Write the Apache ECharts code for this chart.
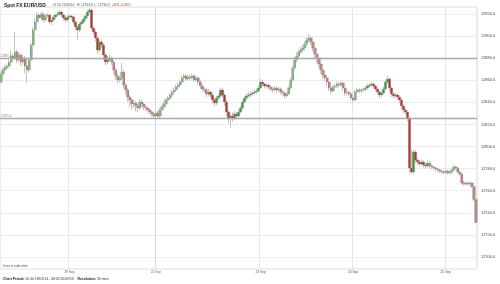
<!DOCTYPE html>
<html><head><meta charset="utf-8">
<script src="https://cdn.jsdelivr.net/npm/echarts/dist/echarts.min.js"></script>
<style>html,body{margin:0;padding:0;background:#fff}#c{width:500px;height:284px}</style>
</head><body><div id="c"></div>
<script>
// ---- data (30-minute candles, EUR/USD in pips-style quote) ----
const firstOpen = 12858.4;
const closes = [
12865.7,12869.3,12871.1,12872.9,12876.5,12882.0,12880.2,12885.6,12878.4,12882.9,
12876.5,12880.2,12872.9,12869.3,12878.4,12891.9,12905.5,12912.8,12919.1,12916.4,
12920.0,12914.6,12918.2,12919.1,12912.8,12914.6,12917.3,12919.1,12920.0,12921.8,
12919.1,12916.4,12914.6,12917.3,12918.2,12917.3,12912.8,12908.2,12905.5,12911.0,
12912.8,12915.5,12918.2,12921.8,12923.6,12907.3,12903.7,12898.3,12887.4,12894.7,
12891.9,12882.9,12876.5,12878.4,12880.2,12876.5,12869.3,12863.9,12860.2,12862.1,
12867.5,12855.7,12851.2,12844.8,12842.1,12838.5,12839.4,12836.7,12834.9,12840.3,
12838.5,12835.8,12834.9,12833.1,12831.3,12829.5,12827.6,12830.4,12827.6,12833.1,
12835.8,12838.5,12842.1,12843.9,12846.7,12849.4,12851.2,12853.9,12855.7,12858.4,
12862.1,12863.9,12861.2,12863.0,12862.1,12863.9,12860.2,12862.1,12858.4,12854.8,
12852.1,12851.2,12847.6,12849.4,12846.7,12842.1,12839.4,12843.9,12845.8,12851.2,
12846.7,12840.3,12831.3,12824.9,12827.6,12825.8,12829.5,12827.6,12831.3,12834.9,
12840.3,12843.9,12845.8,12846.7,12847.6,12848.5,12849.4,12850.3,12853.0,12858.4,
12856.6,12854.8,12855.7,12853.9,12852.1,12851.2,12853.0,12851.2,12852.1,12849.4,
12848.5,12845.8,12847.6,12853.0,12860.2,12871.1,12878.4,12882.0,12885.6,12887.4,
12889.2,12892.8,12896.5,12898.3,12894.7,12889.2,12883.8,12880.2,12874.7,12869.3,
12864.8,12862.1,12858.4,12853.0,12850.3,12853.9,12854.8,12856.6,12855.7,12857.5,
12853.0,12848.5,12848.9,12847.6,12843.9,12842.1,12849.4,12851.2,12850.3,12851.2,
12851.6,12853.0,12854.8,12855.7,12856.6,12854.8,12852.1,12849.4,12846.7,12848.5,
12852.1,12858.4,12861.2,12853.0,12847.6,12845.8,12846.7,12844.8,12842.1,12836.7,
12833.1,12831.3,12825.8,12780.6,12777.0,12795.1,12787.8,12786.0,12784.2,12786.0,
12783.3,12782.4,12785.1,12782.4,12781.5,12780.6,12779.7,12778.8,12777.9,12777.0,
12776.6,12777.9,12776.1,12777.0,12778.8,12781.5,12780.6,12777.0,12775.2,12767.0,
12766.1,12767.0,12766.1,12767.0,12763.8,12752.0,12731.3
];
const highs = [
12867.5,12871.5,12873.5,12875.2,12879.0,12887.0,12884.0,12903.7,12888.0,12885.5,
12884.5,12883.0,12882.0,12875.0,12880.5,12894.0,12908.0,12916.0,12921.5,12921.0,
12922.0,12921.5,12920.0,12921.0,12920.0,12916.5,12919.0,12920.5,12922.0,12923.5,
12923.0,12920.5,12918.0,12919.0,12920.0,12919.5,12918.5,12914.0,12910.0,12912.5,
12914.5,12917.5,12920.0,12923.5,12925.5,12924.5,12909.0,12906.0,12900.0,12897.0,
12897.0,12893.5,12884.5,12882.0,12883.0,12881.5,12878.0,12871.0,12866.0,12864.5,
12875.6,12869.0,12857.5,12853.0,12847.0,12844.0,12842.5,12841.0,12838.5,12843.0,
12842.5,12840.0,12838.0,12836.5,12835.0,12833.0,12831.0,12832.5,12832.0,12835.0,
12837.5,12840.5,12844.0,12846.0,12848.5,12851.5,12853.5,12856.0,12858.0,12860.5,
12864.5,12866.0,12865.5,12865.0,12865.0,12866.0,12865.5,12864.5,12863.5,12860.0,
12856.5,12854.0,12853.0,12852.0,12851.0,12848.5,12844.0,12846.0,12848.0,12853.5,
12853.0,12848.0,12842.0,12833.0,12830.0,12831.0,12832.0,12831.5,12833.5,12837.0,
12842.5,12846.0,12848.5,12849.0,12850.0,12850.5,12851.5,12852.5,12855.0,12861.0,
12860.5,12858.0,12857.5,12857.0,12855.5,12854.0,12855.0,12854.5,12854.0,12853.5,
12851.0,12850.0,12849.5,12855.0,12862.5,12873.5,12881.0,12885.0,12888.0,12890.0,
12892.0,12895.5,12899.0,12901.9,12900.0,12896.5,12891.0,12886.0,12882.0,12876.5,
12871.0,12867.0,12864.0,12860.0,12855.0,12856.0,12857.0,12858.5,12858.5,12859.5,
12859.0,12854.5,12850.5,12850.5,12849.0,12845.5,12851.5,12853.0,12853.0,12853.0,
12853.5,12855.0,12857.0,12857.5,12858.5,12858.0,12856.0,12853.5,12851.0,12850.5,
12854.0,12860.5,12864.0,12862.5,12854.5,12849.0,12849.0,12848.0,12846.5,12843.5,
12838.0,12835.0,12832.5,12827.0,12796.9,12797.5,12797.0,12790.0,12788.0,12788.5,
12787.5,12785.0,12787.0,12786.5,12784.0,12783.0,12782.0,12781.0,12780.0,12779.0,
12778.5,12779.5,12779.0,12778.5,12780.5,12783.0,12783.0,12782.0,12778.5,12776.5,
12769.0,12768.5,12768.5,12768.5,12768.0,12764.5,12753.0
];
const lows = [
12856.6,12864.0,12867.8,12869.5,12871.5,12875.0,12877.5,12878.5,12875.5,12876.0,
12873.0,12874.0,12866.0,12857.5,12867.0,12877.0,12890.0,12903.5,12911.0,12914.0,
12914.5,12912.0,12913.0,12916.5,12910.5,12910.0,12913.0,12915.5,12917.5,12918.5,
12917.0,12914.0,12912.5,12913.0,12915.5,12915.0,12910.5,12905.0,12896.5,12903.5,
12909.5,12911.0,12914.0,12916.5,12920.0,12905.0,12901.0,12895.0,12884.0,12885.5,
12889.0,12878.0,12873.5,12874.5,12876.5,12874.0,12866.0,12860.5,12857.0,12858.0,
12860.0,12852.5,12847.0,12840.5,12836.0,12833.5,12835.0,12832.0,12831.0,12833.0,
12835.5,12833.0,12832.0,12830.5,12829.0,12827.0,12825.5,12826.0,12825.0,12826.0,
12831.5,12834.0,12837.0,12840.5,12842.5,12845.0,12848.0,12849.5,12852.0,12854.0,
12857.0,12860.5,12859.5,12859.5,12860.0,12860.5,12858.5,12858.5,12856.0,12852.0,
12849.5,12848.5,12844.5,12845.5,12844.0,12839.0,12836.5,12837.5,12842.0,12844.0,
12844.5,12837.0,12827.5,12821.0,12816.8,12822.5,12824.0,12825.0,12826.0,12830.0,
12833.5,12839.0,12842.0,12844.0,12845.0,12846.0,12847.0,12848.0,12849.0,12852.0,
12854.5,12852.5,12853.0,12851.5,12850.0,12849.0,12849.5,12849.0,12849.5,12847.0,
12846.0,12843.5,12844.0,12846.5,12851.5,12859.0,12869.5,12876.0,12880.0,12883.5,
12885.0,12887.0,12890.5,12894.5,12892.0,12886.0,12880.5,12875.6,12871.5,12866.0,
12861.5,12859.0,12855.0,12850.0,12847.5,12848.5,12852.0,12853.0,12853.5,12854.0,
12850.5,12846.0,12846.5,12845.5,12841.5,12840.0,12841.0,12848.0,12848.5,12848.5,
12849.5,12850.0,12851.5,12853.5,12854.0,12852.5,12850.0,12847.0,12843.5,12845.0,
12847.0,12851.0,12857.0,12850.0,12845.0,12843.5,12844.0,12842.5,12839.5,12834.0,
12830.5,12828.5,12823.0,12775.5,12775.0,12775.0,12785.5,12783.5,12782.0,12782.5,
12781.0,12780.0,12781.0,12780.5,12779.5,12778.5,12777.5,12777.0,12776.0,12775.5,
12775.0,12775.0,12774.5,12774.5,12775.5,12777.5,12779.0,12775.5,12773.5,12765.5,
12764.5,12764.5,12764.5,12765.0,12762.5,12750.5,12730.3
];
const dayLabels = ['19 Sep', '22 Sep', '23 Sep', '24 Sep', '25 Sep'];
const dayIndex = [34, 77, 129, 175, 221];
const yMin = 12700, yMax = 12920, yStep = 20;
const levelValues = [12880.2, 12825.6];
const levelLabels = ['12880.2', '12825.6'];
const lastPrice = 12731.3;

// ---- build library structures ----
const categories = closes.map((_, i) => String(i));
const ohlc = closes.map((c, i) => [i === 0 ? firstOpen : closes[i - 1], c, lows[i], highs[i]]);
const dayAt = {};
dayIndex.forEach((d, k) => { dayAt[d] = dayLabels[k]; });
const isDay = (i) => dayAt[i] !== undefined;

const chart = echarts.init(document.getElementById('c'), null, {renderer: 'canvas'});
const FONT = 'Liberation Sans, Arial, sans-serif';

chart.setOption({
  animation: false,
  backgroundColor: '#fff',
  textStyle: {fontFamily: FONT},
  grid: [
    {left: 0, right: 23, top: 7, bottom: 15, show: true, borderColor: '#dedede', borderWidth: 1},
    {left: 0, right: 23, top: 14, bottom: 27}
  ],
  xAxis: [
    {
      gridIndex: 0, type: 'category', data: categories, boundaryGap: true,
      axisLine: {show: false}, axisTick: {show: false},
      axisLabel: {
        interval: (i) => isDay(i), formatter: (v, i) => dayAt[+v] || '',
        fontSize: 3.3, fontFamily: FONT, margin: 1.5,
        color: (v) => (dayAt[+v] === '22 Sep' ? '#5a6fb5' : '#555')
      },
      splitLine: {
        show: true, interval: (i) => isDay(i),
        lineStyle: {width: 1, color: ['#e6e6e6', '#d2d8ee', '#e6e6e6', '#e6e6e6', '#e6e6e6']}
      }
    },
    {gridIndex: 1, type: 'category', data: categories, boundaryGap: true, show: false}
  ],
  yAxis: [
    {gridIndex: 0, type: 'value', min: 0, max: 1, show: false},
    {
      gridIndex: 1, type: 'value', position: 'right', min: yMin, max: yMax, interval: yStep,
      axisLine: {show: false}, axisTick: {show: false},
      axisLabel: {fontSize: 3.9, fontFamily: FONT, color: '#444', margin: 4, formatter: (v) => v.toFixed(1)},
      splitLine: {show: true, lineStyle: {color: '#ededed', width: 1}}
    }
  ],
  series: [
    {
      type: 'candlestick', xAxisIndex: 1, yAxisIndex: 1, data: ohlc, clip: false,
      barWidth: 2.6, silent: true,
      itemStyle: {color: '#d2d2d2', color0: '#d2d2d2', borderColor: '#c2c2c2', borderColor0: '#c2c2c2', borderWidth: 1}
    },
    {
      type: 'candlestick', xAxisIndex: 1, yAxisIndex: 1, data: ohlc, clip: false,
      barWidth: 1.9, silent: true,
      itemStyle: {color: '#3f9a3f', color0: '#b23434', borderColor: '#3f9a3f', borderColor0: '#b23434', borderWidth: 0},
      markLine: {
        symbol: 'none', silent: true, animation: false,
        data: [
          {yAxis: levelValues[0], lineStyle: {color: '#a9a9a9', width: 1.4, type: 'solid'},
           label: {show: true, position: 'insideStartTop', formatter: levelLabels[0], fontSize: 3, color: '#888', distance: 0.5}},
          {yAxis: levelValues[1], lineStyle: {color: '#a9a9a9', width: 1.4, type: 'solid'},
           label: {show: true, position: 'insideStartTop', formatter: levelLabels[1], fontSize: 3, color: '#888', distance: 0.5}},
          {yAxis: lastPrice, lineStyle: {opacity: 0, width: 0},
           label: {show: true, position: 'end', formatter: lastPrice.toFixed(1), fontSize: 3.9, color: '#333',
                   backgroundColor: '#fff', borderColor: '#888', borderWidth: 0.7, padding: [1, 1.5, 0.5, 1.5], distance: 3}}
        ]
      }
    }
  ],
  graphic: [
    {type: 'text', left: 4, top: 3, style: {text: 'Spot FX EUR/USD', font: 'bold 4.9px ' + FONT, fill: '#222'}},
    {type: 'text', left: 53, top: 3.6, style: {text: '07:00 25/09/14', font: '3.2px ' + FONT, fill: '#555'}},
    {type: 'text', left: 77, top: 3.6, style: {text: 'H: 12763.8  L: 12730.3', font: '3.2px ' + FONT, fill: '#555'}},
    {type: 'text', left: 112, top: 3.6, style: {text: '-43.6 -0.34%', font: '3.2px ' + FONT, fill: '#d42a2a'}},
    {type: 'text', left: 3, top: 264.5, style: {text: 'Data is indicative', font: '3.3px ' + FONT, fill: '#555'}},
    {type: 'text', left: 3, top: 278, style: {
      text: '{b|Chart Period:} 00:30 18/09/14 - 08:30 25/09/14    {b|Resolution:} 30 mins',
      font: '3.4px ' + FONT, fill: '#333',
      rich: {b: {fontWeight: 'bold', fontSize: 3.4, fontFamily: FONT, fill: '#222'}}
    }}
  ]
});
</script>
</body></html>
